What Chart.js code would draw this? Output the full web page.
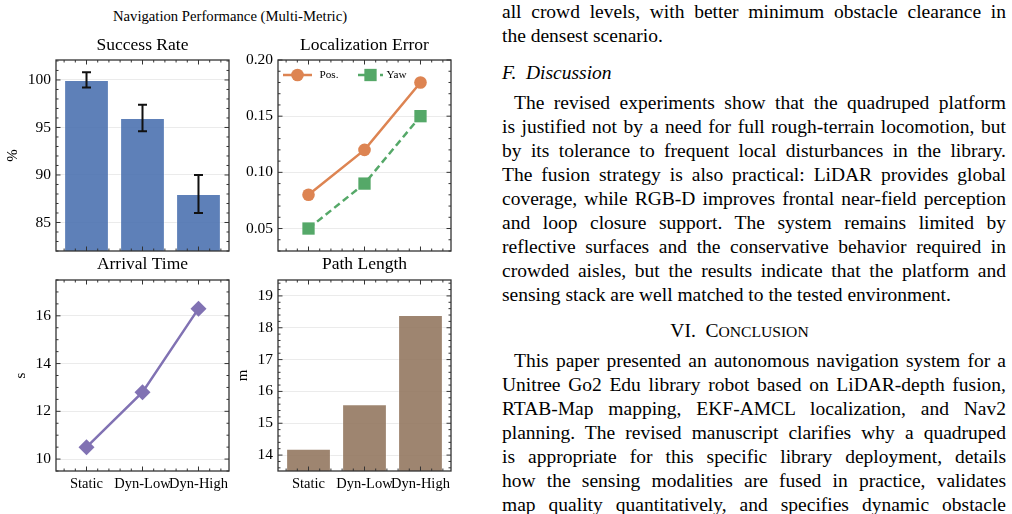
<!DOCTYPE html>
<html>
<head>
<meta charset="utf-8">
<title>Navigation Performance</title>
<script src="https://cdn.jsdelivr.net/npm/chart.js@4.4.0/dist/chart.umd.min.js"></script>
<style>
  html, body { margin: 0; padding: 0; background: #fff; }
  body {
    width: 1012px; height: 514px; position: relative; overflow: hidden;
    font-family: "Liberation Serif", "Times New Roman", serif; color: #000;
  }
  canvas { position: absolute; }
  #suptitle {
    position: absolute; left: 0; top: 6.5px; width: 460px;
    text-align: center; font-size: 14.7px; line-height: 18px;
  }
  #paper { position: absolute; left: 502px; top: 0; width: 504px; font-size: 19.5px; }
  .ln {
    position: absolute; left: 0; width: 504px; height: 24px; line-height: 24px;
    white-space: nowrap; text-align: justify; text-align-last: justify;
  }
  .ln.last { text-align-last: left; }
  .ln.ind { text-indent: 12px; }
  .sub { font-style: italic; text-align-last: left; }
  .sec { text-align: center; text-align-last: center; left: -14.5px; }
  .sc { text-transform: uppercase; font-size: 15.6px; }
</style>
</head>
<body>
<div id="suptitle">Navigation Performance (Multi-Metric)</div>
<canvas id="successChart" style="left:0px; top:28px;" width="240" height="243"></canvas>
<canvas id="locChart" style="left:230px; top:28px;" width="230" height="243"></canvas>
<canvas id="arrivalChart" style="left:0px; top:250px;" width="240" height="264"></canvas>
<canvas id="pathChart" style="left:230px; top:250px;" width="230" height="264"></canvas>

<div id="paper">
  <div class="ln" style="top:0px">all crowd levels, with better minimum obstacle clearance in</div>
  <div class="ln last" style="top:24px">the densest scenario.</div>
  <div class="ln sub" style="top:61px">F.&nbsp; Discussion</div>
  <div class="ln ind" style="top:91.4px">The revised experiments show that the quadruped platform</div>
  <div class="ln" style="top:115.4px">is justified not by a need for full rough-terrain locomotion, but</div>
  <div class="ln" style="top:139.4px">by its tolerance to frequent local disturbances in the library.</div>
  <div class="ln" style="top:163.4px">The fusion strategy is also practical: LiDAR provides global</div>
  <div class="ln" style="top:187.4px">coverage, while RGB-D improves frontal near-field perception</div>
  <div class="ln" style="top:211.4px">and loop closure support. The system remains limited by</div>
  <div class="ln" style="top:235.4px">reflective surfaces and the conservative behavior required in</div>
  <div class="ln" style="top:259.4px">crowded aisles, but the results indicate that the platform and</div>
  <div class="ln last" style="top:283.4px">sensing stack are well matched to the tested environment.</div>
  <div class="ln sec" style="top:318.7px">VI.&nbsp; C<span class="sc">onclusion</span></div>
  <div class="ln ind" style="top:348.7px">This paper presented an autonomous navigation system for a</div>
  <div class="ln" style="top:372.7px">Unitree Go2 Edu library robot based on LiDAR-depth fusion,</div>
  <div class="ln" style="top:396.7px">RTAB-Map mapping, EKF-AMCL localization, and Nav2</div>
  <div class="ln" style="top:420.7px">planning. The revised manuscript clarifies why a quadruped</div>
  <div class="ln" style="top:444.7px">is appropriate for this specific library deployment, details</div>
  <div class="ln" style="top:468.7px">how the sensing modalities are fused in practice, validates</div>
  <div class="ln" style="top:492.7px">map quality quantitatively, and specifies dynamic obstacle</div>
</div>

<script>
// Data
const categories = ['Static', 'Dyn-Low', 'Dyn-High'];
const successRate = [100, 96, 88];
const successErr = [0.8, 1.4, 2.0];
const posError = [0.08, 0.12, 0.18];
const yawError = [0.05, 0.09, 0.15];
const arrivalTime = [10.5, 12.8, 16.3];
const pathLength = [14.2, 15.6, 18.4];

const successTicks = [85, 90, 95, 100];
const locTicks = [0.05, 0.10, 0.15, 0.20];
const arrivalTicks = [10, 12, 14, 16];
const pathTicks = [14, 15, 16, 17, 18, 19];

const SERIF = '"Liberation Serif", "Times New Roman", serif';
const ORANGE = '#DD8452', GREEN = '#55A868', PURPLE = '#8172B3';

function toPoints(values) {
    return values.map((v, i) => ({ x: i, y: v }));
}

// Frame plus inward major/minor ticks on all four sides
function makeFrame(xMinor, yMajor, yMinor) {
    function marks(scale, step) {
        const out = [];
        const start = Math.ceil(scale.min / step - 1e-6);
        const end = Math.floor(scale.max / step + 1e-6);
        for (let k = start; k <= end; k++) out.push(k * step);
        return out;
    }
    function isMajor(v, major) {
        const r = v / major;
        return Math.abs(r - Math.round(r)) < 1e-6;
    }
    return {
        id: 'frame',
        afterDraw(chart) {
            const ctx = chart.ctx;
            const a = chart.chartArea;
            const x = chart.scales.x, y = chart.scales.y;
            ctx.save();
            ctx.strokeStyle = '#333';
            ctx.lineWidth = 1;
            ctx.beginPath();
            marks(x, xMinor).forEach(v => {
                const px = x.getPixelForValue(v);
                const len = isMajor(v, 1) ? 4.5 : 2.5;
                ctx.moveTo(px, a.bottom); ctx.lineTo(px, a.bottom - len);
                ctx.moveTo(px, a.top); ctx.lineTo(px, a.top + len);
            });
            marks(y, yMinor).forEach(v => {
                const py = y.getPixelForValue(v);
                const len = isMajor(v, yMajor) ? 4.5 : 2.5;
                ctx.moveTo(a.left, py); ctx.lineTo(a.left + len, py);
                ctx.moveTo(a.right, py); ctx.lineTo(a.right - len, py);
            });
            ctx.stroke();
            ctx.lineWidth = 1.3;
            ctx.strokeRect(a.left, a.top, a.right - a.left, a.bottom - a.top);
            ctx.restore();
        }
    };
}

// Error bars for the success rate panel
const errorBars = {
    id: 'errorBars',
    afterDatasetsDraw(chart) {
        const { ctx, scales: { x, y } } = chart;
        ctx.save();
        ctx.strokeStyle = '#111';
        ctx.lineWidth = 2;
        successRate.forEach((v, i) => {
            const px = x.getPixelForValue(i);
            const top = y.getPixelForValue(v + successErr[i]);
            const bot = y.getPixelForValue(v - successErr[i]);
            ctx.beginPath();
            ctx.moveTo(px, top); ctx.lineTo(px, bot);
            ctx.moveTo(px - 4.5, top); ctx.lineTo(px + 4.5, top);
            ctx.moveTo(px - 4.5, bot); ctx.lineTo(px + 4.5, bot);
            ctx.stroke();
        });
        ctx.restore();
    }
};

// matplotlib-style legend: line + marker + label
const lineLegend = {
    id: 'lineLegend',
    afterDraw(chart) {
        const { ctx, chartArea: a } = chart;
        const slots = [
            { x0: 5, x1: 34, m: 19.5, t: 41.5 },
            { x0: 80, x1: 105, m: 92.5, t: 108.5 }
        ];
        const yy = a.top + 15;
        ctx.save();
        chart.data.datasets.forEach((ds, i) => {
            const s = slots[i];
            ctx.strokeStyle = ds.borderColor;
            ctx.fillStyle = ds.borderColor;
            ctx.lineWidth = ds.borderWidth;
            ctx.setLineDash(ds.borderDash || []);
            ctx.beginPath();
            ctx.moveTo(a.left + s.x0, yy);
            ctx.lineTo(a.left + s.x1, yy);
            ctx.stroke();
            ctx.setLineDash([]);
            Chart.helpers.drawPoint(ctx, {
                pointStyle: ds.pointStyle, radius: ds.pointRadius, rotation: 0, borderWidth: 0
            }, a.left + s.m, yy);
            ctx.fillStyle = '#000';
            ctx.font = '11.2px ' + SERIF;
            ctx.textBaseline = 'middle';
            ctx.textAlign = 'left';
            ctx.fillText(ds.label, a.left + s.t, yy);
        });
        ctx.restore();
    }
};

function panelOptions(p) {
    return {
        responsive: false,
        animation: false,
        events: [],
        layout: { padding: { left: 0, right: p.padRight, top: 0, bottom: 0 } },
        plugins: {
            legend: { display: false },
            tooltip: { enabled: false },
            title: {
                display: true,
                fullSize: false,
                text: p.title,
                color: '#000',
                font: { family: SERIF, size: 17.5, weight: 'normal' },
                padding: { top: p.titleTop, bottom: p.titleBottom }
            }
        },
        scales: {
            x: {
                type: 'linear',
                offset: false,
                min: -0.545,
                max: 2.545,
                grid: { display: false, drawTicks: false },
                border: { display: false },
                afterBuildTicks: s => { s.ticks = categories.map((c, i) => ({ value: i })); },
                ticks: {
                    display: p.showX,
                    autoSkip: false,
                    maxRotation: 0,
                    color: '#000',
                    padding: 4,
                    font: { family: SERIF, size: 14.5 },
                    callback: v => categories[v]
                },
                afterFit: s => { s.height = p.xHeight; }
            },
            y: {
                min: p.yMin,
                max: p.yMax,
                afterBuildTicks: s => { s.ticks = p.yTicks.map(v => ({ value: v })); },
                grid: { color: 'rgba(0,0,0,0.08)', lineWidth: 1, drawTicks: false },
                border: { display: false },
                ticks: {
                    color: '#000',
                    padding: 5,
                    font: { family: SERIF, size: 15.5 },
                    callback: p.fmt
                },
                title: {
                    display: !!p.yTitle,
                    text: p.yTitle,
                    color: '#000',
                    font: { family: SERIF, size: 15 },
                    padding: { top: p.yTitlePad, bottom: 0 }
                },
                afterFit: s => { s.width = p.yWidth; }
            }
        }
    };
}

// Success Rate (bars + error bars)
new Chart(document.getElementById('successChart'), {
    type: 'bar',
    data: {
        datasets: [{
            label: 'Success Rate',
            data: toPoints(successRate),
            backgroundColor: 'rgba(76,114,176,0.9)',
            borderColor: 'rgba(255,255,255,0.35)',
            borderWidth: 1,
            barPercentage: 0.8,
            categoryPercentage: 1
        }]
    },
    options: panelOptions({
        title: 'Success Rate', titleTop: 7.0, titleBottom: 4.0,
        padRight: 11, yWidth: 56, xHeight: 20, showX: false,
        yMin: 82, yMax: 102.1, yTicks: successTicks,
        fmt: v => String(v), yTitle: '%', yTitlePad: 4.5
    }),
    plugins: [makeFrame(0.2, 5, 1), errorBars]
});

// Localization Error (two lines)
new Chart(document.getElementById('locChart'), {
    type: 'line',
    data: {
        datasets: [{
            label: 'Pos.',
            data: toPoints(posError),
            borderColor: ORANGE,
            backgroundColor: ORANGE,
            borderWidth: 2.5,
            pointStyle: 'circle',
            pointRadius: 6.3,
            pointBorderWidth: 0,
            tension: 0
        }, {
            label: 'Yaw',
            data: toPoints(yawError),
            borderColor: GREEN,
            backgroundColor: GREEN,
            borderWidth: 2.5,
            borderDash: [7, 4],
            pointStyle: 'rect',
            pointRadius: 8.7,
            pointBorderWidth: 0,
            tension: 0
        }]
    },
    options: panelOptions({
        title: 'Localization Error', titleTop: 7.0, titleBottom: 4.0,
        padRight: 9, yWidth: 48, xHeight: 20, showX: false,
        yMin: 0.03, yMax: 0.2, yTicks: locTicks,
        fmt: v => v.toFixed(2), yTitle: '', yTitlePad: 0
    }),
    plugins: [makeFrame(0.2, 0.05, 0.01), lineLegend]
});

// Arrival Time (line)
new Chart(document.getElementById('arrivalChart'), {
    type: 'line',
    data: {
        datasets: [{
            label: 'Arrival Time',
            data: toPoints(arrivalTime),
            borderColor: PURPLE,
            backgroundColor: PURPLE,
            borderWidth: 2.5,
            pointStyle: 'rectRot',
            pointRadius: 8,
            pointBorderWidth: 0,
            tension: 0
        }]
    },
    options: panelOptions({
        title: 'Arrival Time', titleTop: 4.4, titleBottom: 4.6,
        padRight: 11, yWidth: 56, xHeight: 43, showX: true,
        yMin: 9.5, yMax: 17.5, yTicks: arrivalTicks,
        fmt: v => String(v), yTitle: 's', yTitlePad: 12
    }),
    plugins: [makeFrame(0.2, 2, 0.5)]
});

// Path Length (bars)
new Chart(document.getElementById('pathChart'), {
    type: 'bar',
    data: {
        datasets: [{
            label: 'Path Length',
            data: toPoints(pathLength),
            backgroundColor: 'rgba(147,120,96,0.9)',
            borderColor: 'rgba(255,255,255,0.35)',
            borderWidth: 1,
            barPercentage: 0.8,
            categoryPercentage: 1
        }]
    },
    options: panelOptions({
        title: 'Path Length', titleTop: 4.4, titleBottom: 4.6,
        padRight: 9, yWidth: 48, xHeight: 43, showX: true,
        yMin: 13.5, yMax: 19.5, yTicks: pathTicks,
        fmt: v => String(v), yTitle: 'm', yTitlePad: 4.3
    }),
    plugins: [makeFrame(0.2, 1, 0.2)]
});
</script>
</body>
</html>
